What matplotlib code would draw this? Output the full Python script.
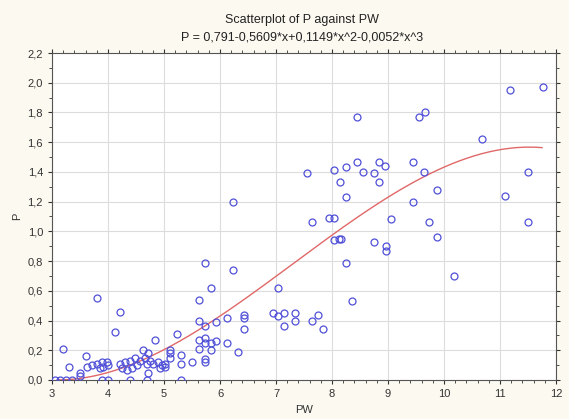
import numpy as np
import matplotlib
matplotlib.use('Agg')
import matplotlib.pyplot as plt
from matplotlib.ticker import MultipleLocator, FuncFormatter

plt.rcParams['font.family'] = ['Liberation Sans', 'DejaVu Sans']

# data (PW, P)
pw = [3.05, 3.15, 3.25, 3.35, 3.9, 4.0, 4.4, 4.7, 5.3,
      3.2, 3.3, 3.5, 3.5, 3.6, 3.8, 4.21, 4.12,
      3.62, 3.71, 3.8, 3.89, 3.98, 4.0, 3.91, 3.86,
      4.21, 4.3, 4.39, 4.48, 4.57, 4.52, 4.43, 4.34, 4.25,
      4.62, 4.71, 4.66, 4.75, 4.7, 4.84,
      4.8, 4.89, 4.96, 5.02, 4.93, 5.02, 4.71,
      5.1, 5.1, 5.1, 5.23, 5.3, 5.3, 5.5,
      5.62, 5.62, 5.62, 5.62, 5.73, 5.73, 5.73, 5.73, 5.73, 5.73,
      5.84, 5.84, 5.84, 5.93, 5.93, 6.12, 6.12, 6.23, 6.23, 6.32,
      6.43, 6.43, 6.43, 6.95, 7.04, 7.14, 7.34, 7.34, 7.14, 7.04,
      7.64, 7.75, 7.84,
      7.64, 7.95, 8.04, 9.05, 8.04, 8.13, 8.16, 8.75, 8.96, 8.96,
      8.25, 8.36,
      7.55, 8.04, 8.25, 8.45, 8.55, 8.75, 8.84, 8.95, 8.84, 8.14, 8.25,
      9.45, 9.64, 9.45, 9.73, 9.88, 9.88, 10.18,
      8.45, 9.55, 9.66, 11.18, 11.77, 10.68, 11.5, 11.09, 11.5]
p = [0.0, 0.0, 0.0, 0.0, 0.0, 0.0, 0.0, 0.0, 0.0,
     0.21, 0.09, 0.05, 0.03, 0.16, 0.55, 0.46, 0.32,
     0.09, 0.10, 0.11, 0.12, 0.12, 0.10, 0.09, 0.08,
     0.11, 0.12, 0.13, 0.15, 0.13, 0.10, 0.08, 0.07, 0.08,
     0.20, 0.18, 0.15, 0.13, 0.11, 0.27,
     0.11, 0.12, 0.10, 0.11, 0.08, 0.09, 0.05,
     0.20, 0.18, 0.15, 0.31, 0.17, 0.11, 0.12,
     0.54, 0.40, 0.27, 0.21, 0.79, 0.36, 0.28, 0.25, 0.14, 0.12,
     0.62, 0.25, 0.20, 0.39, 0.26, 0.42, 0.25, 0.74, 1.20, 0.19,
     0.44, 0.42, 0.34, 0.45, 0.43, 0.45, 0.45, 0.40, 0.36, 0.62,
     0.40, 0.44, 0.34,
     1.06, 1.09, 1.09, 1.08, 0.94, 0.95, 0.95, 0.93, 0.90, 0.87,
     0.79, 0.53,
     1.39, 1.41, 1.43, 1.47, 1.40, 1.39, 1.47, 1.44, 1.33, 1.33, 1.23,
     1.47, 1.40, 1.20, 1.06, 0.96, 1.28, 0.70,
     1.77, 1.77, 1.80, 1.95, 1.97, 1.62, 1.40, 1.24, 1.06]

# cubic fit: P = c0 + c1*x + c2*x^2 + c3*x^3 (title shows the rounded values,
# the drawn curve follows a slightly less rounded x^3 term)
coef = [0.791, -0.5609, 0.1149, -0.00524]
fit_range = [3.1, 11.75]

fig = plt.figure(figsize=(5.69, 4.19), dpi=100, facecolor='#fbf9f0')
ax = fig.add_axes([0.0914, 0.0931, 0.8858, 0.7804])
ax.set_facecolor('white')

xs = np.linspace(fit_range[0], fit_range[1], 200)
ys = coef[0] + coef[1]*xs + coef[2]*xs**2 + coef[3]*xs**3
ax.plot(xs, ys, color='#e06868', lw=1.0, zorder=2)
ax.plot(pw, p, 'o', mfc='none', mec='#5050d8', ms=5, mew=0.9, zorder=3)

ax.set_xlim(3, 12)
ax.set_ylim(0, 2.2)
ax.xaxis.set_major_locator(MultipleLocator(1))
ax.xaxis.set_minor_locator(MultipleLocator(0.2))
ax.yaxis.set_major_locator(MultipleLocator(0.2))
ax.yaxis.set_minor_locator(MultipleLocator(0.1))
ax.yaxis.set_major_formatter(FuncFormatter(lambda v, pos: ('%.1f' % v).replace('.', ',')))
ax.grid(True, which='major', color='#dcdcdc', lw=0.8)
ax.tick_params(which='both', direction='out', top=True, right=True, labelsize=8, colors='#333333')
ax.tick_params(which='major', length=3)
ax.tick_params(which='minor', length=2)
for s in ax.spines.values():
    s.set_color('#555555')
    s.set_linewidth(0.8)

ax.set_xlabel('PW', fontsize=8, color='#333333')
ax.set_ylabel('P', fontsize=8, color='#333333')
fig.text(0.53, 0.952, 'Scatterplot of P against PW', ha='center', va='center', fontsize=9, color='#222222')
fig.text(0.53, 0.911, 'P = 0,791-0,5609*x+0,1149*x^2-0,0052*x^3', ha='center', va='center',
         fontsize=9, color='#222222')

fig.savefig('out.png', dpi=100, facecolor=fig.get_facecolor())
